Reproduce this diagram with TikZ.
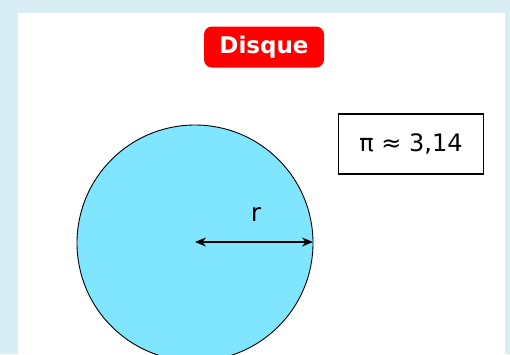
\documentclass[tikz,border=0pt]{standalone}
\usepackage{fontspec}
\setmainfont{DejaVu Sans}
\usetikzlibrary{arrows.meta}
\definecolor{fond}{HTML}{D9EDF4}
\definecolor{bleudisque}{HTML}{80E5FF}
\begin{document}
\begin{tikzpicture}[>={Stealth[length=11pt,width=9pt]},x=1pt,y=-1pt,
	titre/.style={fill=red,rounded corners=8pt,text=white,font=\fontsize{23}{27}\selectfont\bfseries,minimum width=120pt,minimum height=41pt,inner sep=0pt},
	valeur/.style={draw,line width=1.5pt,font=\fontsize{24}{28}\selectfont,minimum width=145pt,minimum height=60pt,inner sep=0pt}]
		\clip (0,0) rectangle (510,354);
		\fill[fond] (0,0) rectangle (510,354);
		\fill[white] (18,13) rectangle (505,354);
		\draw[fill=bleudisque,line width=0.9pt] (195,243) circle (118); % disque coupe en bas
		\coordinate (centre) at (195,242);
		\coordinate (bord) at (313,242);
		\draw[<->,line width=1.4pt] (centre) -- (bord);
		\node[font=\fontsize{25}{29}\selectfont] (r) at (256,214) {r};
		\node[titre] (disque) at (264,47) {Disque};
		\node[valeur] (pi) at (411,144) {π ≈ 3,14};
\end{tikzpicture}
\end{document}
